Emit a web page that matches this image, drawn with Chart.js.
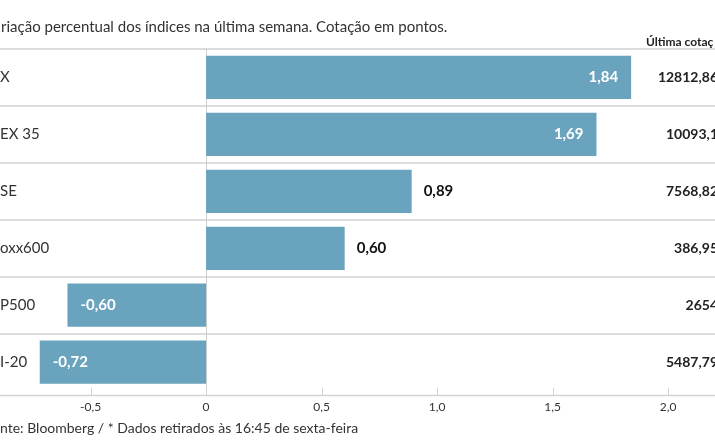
<!DOCTYPE html>
<html>
<head>
<meta charset="utf-8">
<script src="https://cdn.jsdelivr.net/npm/chart.js@4/dist/chart.umd.min.js"></script>
<style>
  html, body { margin: 0; padding: 0; background: #fff; }
  #wrap { width: 715px; height: 445px; position: relative; }
</style>
</head>
<body>
<div id="wrap"><canvas id="canvas-1"></canvas></div>
<script>
'use strict';

// visible parts of the (cropped) chart
var categories = ['X', 'EX 35', 'SE', 'oxx600', 'P500', 'I-20'];
var variation = [1.84, 1.69, 0.89, 0.60, -0.60, -0.72];
var lastQuote = ['12812,86', '10093,1', '7568,82', '386,95', '2654', '5487,79'];
var xTicks = [-0.5, 0, 0.5, 1, 1.5, 2];

var title = 'riação percentual dos índices na última semana. Cotação em pontos.';
var quoteHeader = 'Última cotaç';
var source = 'nte: Bloomberg / * Dados retirados às 16:45 de sexta-feira';

var FONT = 'Lato, "Open Sans", sans-serif';
var barColor = '#6aa3bd';

var fmtVal = function(v) {
  return v.toFixed(2).replace('.', ',');
};

var overlay = {
  id: 'overlay',
  beforeDatasetsDraw: function(chart) {
    var ctx = chart.ctx, area = chart.chartArea, x = chart.scales.x;
    var x0 = Math.round(x.getPixelForValue(0)) + 0.5;
    ctx.save();
    ctx.strokeStyle = '#cfcfcf';
    ctx.lineWidth = 1;
    ctx.beginPath();
    ctx.moveTo(x0, area.top);
    ctx.lineTo(x0, area.bottom + 5);
    ctx.stroke();
    ctx.restore();
  },
  afterDatasetsDraw: function(chart) {
    var ctx = chart.ctx, area = chart.chartArea, x = chart.scales.x;
    var meta = chart.getDatasetMeta(0);
    var W = chart.width;
    ctx.save();

    // axis line + small ticks
    var axisY = area.bottom + 5;
    ctx.strokeStyle = '#d4d4d4';
    ctx.lineWidth = 1.5;
    ctx.beginPath();
    ctx.moveTo(0, axisY);
    ctx.lineTo(W, axisY);
    ctx.stroke();
    ctx.lineWidth = 1;
    xTicks.forEach(function(t) {
      var px = Math.round(x.getPixelForValue(t)) + 0.5;
      ctx.beginPath();
      ctx.moveTo(px, axisY - 8);
      ctx.lineTo(px, axisY);
      ctx.stroke();
    });

    // title, header, source
    ctx.textBaseline = 'middle';
    ctx.fillStyle = '#333';
    ctx.textAlign = 'left';
    ctx.font = '15px ' + FONT;
    ctx.fillText(title, 1, 27);
    ctx.font = 'bold 12px ' + FONT;
    ctx.fillStyle = '#222';
    ctx.fillText(quoteHeader, 646, 42);
    ctx.font = '14px ' + FONT;
    ctx.fillStyle = '#333';
    ctx.fillText(source, 0, 428);

    meta.data.forEach(function(bar, i) {
      var v = variation[i];
      var y = bar.y;
      // category label
      ctx.textAlign = 'left';
      ctx.font = '15px ' + FONT;
      ctx.fillStyle = '#333';
      ctx.fillText(categories[i], 0, y);

      // last quote column
      ctx.textAlign = 'right';
      ctx.font = 'bold 14px ' + FONT;
      ctx.fillStyle = '#222';
      ctx.fillText(lastQuote[i], W + 3, y);

      // value label
      var label = fmtVal(v);
      ctx.font = 'bold 15px ' + FONT;
      if (v >= 1) {
        ctx.textAlign = 'right';
        ctx.fillStyle = '#fff';
        ctx.fillText(label, bar.x - 13, y);
      } else if (v >= 0) {
        ctx.textAlign = 'left';
        ctx.fillStyle = '#111';
        ctx.fillText(label, bar.x + 12, y);
      } else {
        ctx.textAlign = 'left';
        ctx.fillStyle = '#fff';
        ctx.fillText(label, bar.x + 13, y);
      }
    });
    ctx.restore();
  }
};

var ctx = document.getElementById('canvas-1');
var chart = new Chart(ctx, {
  type: 'bar',
  data: {
    labels: categories,
    datasets: [{
      data: variation,
      backgroundColor: barColor,
      borderWidth: 0,
      categoryPercentage: 1,
      barPercentage: 0.76
    }]
  },
  options: {
    indexAxis: 'y',
    responsive: true,
    maintainAspectRatio: false,
    animation: false,
    layout: { padding: { top: 49, left: 0, right: 0, bottom: 22 } },
    plugins: {
      legend: { display: false },
      tooltip: { enabled: false }
    },
    scales: {
      x: {
        min: -0.892,
        max: 2.203,
        afterBuildTicks: function(scale) {
          scale.ticks = xTicks.map(function(t) { return { value: t }; });
        },
        grid: { display: false, drawTicks: false },
        border: { display: false },
        ticks: {
          padding: 9,
          color: '#333',
          font: { family: FONT, size: 12 },
          callback: function(v) {
            return v === 0 ? '0' : v.toFixed(1).replace('.', ',');
          }
        }
      },
      y: {
        grid: {
          offset: true,
          drawTicks: false,
          lineWidth: 2,
          color: function(c) { return c.tick ? '#dcdcdc' : 'rgba(0,0,0,0)'; }
        },
        border: { display: false },
        ticks: { display: false }
      }
    }
  },
  plugins: [overlay]
});
</script>
</body>
</html>
